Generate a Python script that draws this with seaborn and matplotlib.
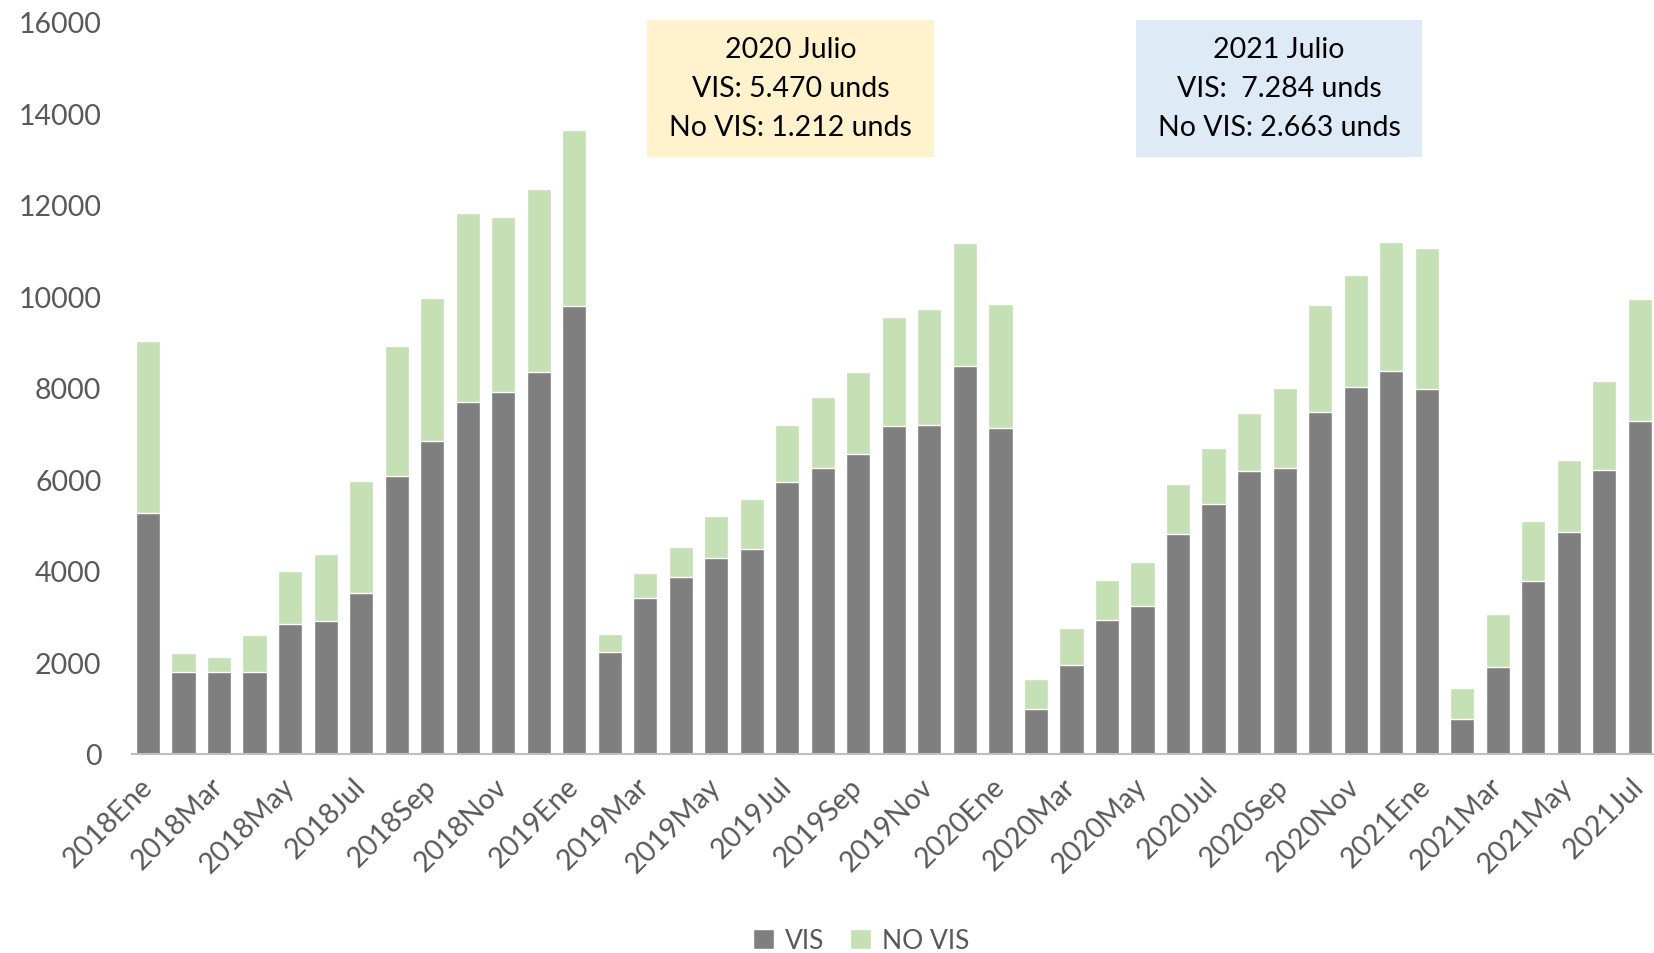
import matplotlib
matplotlib.use('Agg')
import matplotlib.pyplot as plt
from matplotlib.patches import Patch, Rectangle
import seaborn as sns
import pandas as pd

# months 2018Ene .. 2021Jul
mes = ['Ene', 'Feb', 'Mar', 'Abr', 'May', 'Jun', 'Jul', 'Ago', 'Sep', 'Oct', 'Nov', 'Dic']
months = [f'{y}{m}' for y in range(2018, 2022) for m in mes][:43]

vis = [5270, 1800, 1800, 1800, 2850, 2900, 3510, 6080, 6850, 7690, 7910, 8340,
       9790, 2240, 3420, 3860, 4280, 4490, 5950, 6250, 6550, 7160, 7190, 8470,
       7130, 990, 1940, 2930, 3230, 4800, 5470, 6180, 6250, 7480, 8030, 8370,
       7970, 760, 1900, 3780, 4860, 6200, 7284]
no_vis = [3760, 410, 330, 810, 1160, 1470, 2450, 2840, 3110, 4130, 3820, 4010,
          3840, 380, 530, 670, 920, 1080, 1250, 1550, 1790, 2390, 2530, 2690,
          2700, 660, 820, 870, 960, 1100, 1212, 1270, 1760, 2330, 2430, 2820,
          3080, 690, 1150, 1320, 1570, 1950, 2663]

df = pd.DataFrame({'mes': months, 'VIS': vis, 'NO VIS': no_vis})
df['total'] = df['VIS'] + df['NO VIS']

gray = '#7f7f7f'
green = '#c5e0b4'
txt = '#595959'

sns.set_theme(style='white')
plt.rcParams['font.family'] = ['Lato', 'DejaVu Sans']

fig = plt.figure(figsize=(16.54, 9.54), dpi=100)
ax = fig.add_axes([132 / 1654, 199 / 954, 1522 / 1654, 732 / 954])

sns.barplot(data=df, x='mes', y='total', color=green, saturation=1, width=0.68, ax=ax)
sns.barplot(data=df, x='mes', y='VIS', color=gray, saturation=1, width=0.68, ax=ax)

ax.set_xlim(-0.45, 42.4)
ax.set_ylim(0, 16000)
ax.set_yticks(range(0, 16001, 2000))
ax.set_yticklabels([str(v) for v in range(0, 16001, 2000)], fontsize=20.5, color=txt)
ax.set_xticks(range(0, 43, 2))
ax.set_xticklabels(months[::2], rotation=45, ha='right', va='center',
                   rotation_mode='anchor', fontsize=20.5, color=txt)
ax.tick_params(axis='y', length=0, pad=22)
ax.tick_params(axis='x', length=0, pad=20)
ax.set_xlabel('')
ax.set_ylabel('')
for s in ['top', 'right', 'left']:
    ax.spines[s].set_visible(False)
ax.spines['bottom'].set_color('#bfbfbf')
ax.spines['bottom'].set_linewidth(1.5)

# annotation boxes
boxes = [
    (647, 934, '#fff2cc', '2020 Julio\nVIS: 5.470 unds\nNo VIS: 1.212 unds'),
    (1136, 1422, '#deebf7', '2021 Julio\nVIS:  7.284 unds\nNo VIS: 2.663 unds'),
]
for x0, x1, fc, label in boxes:
    fig.add_artist(Rectangle((x0 / 1654, 1 - 158 / 954), (x1 - x0) / 1654, 137 / 954,
                             transform=fig.transFigure, facecolor=fc, edgecolor='none'))
    fig.text((x0 + x1) / 2 / 1654, 1 - 89 / 954, label, ha='center', va='center',
             fontsize=20.5, linespacing=1.6, color='black')

handles = [Patch(facecolor=gray), Patch(facecolor=green)]
fig.legend(handles, ['VIS', 'NO VIS'], loc='center', bbox_to_anchor=(861 / 1654, 1 - 942 / 954),
           ncol=2, frameon=False, fontsize=19, labelcolor=txt, handlelength=0.8,
           handleheight=0.8, handletextpad=0.4, columnspacing=1.0)

fig.savefig('out.png', dpi=100)
